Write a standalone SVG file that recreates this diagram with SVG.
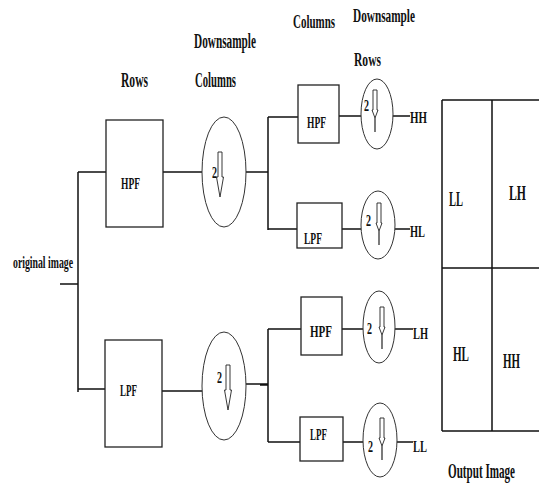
<svg xmlns="http://www.w3.org/2000/svg" width="539" height="489" viewBox="0 0 539 489">
<style>
.t{font-family:"Liberation Serif","Times New Roman",serif;font-weight:bold;fill:#111}
.box{fill:#fff;stroke:#222;stroke-width:1.3}
.ell{fill:#fff;stroke:#333;stroke-width:1}
.ln{stroke:#111;stroke-width:1.5;fill:none}
.arr{fill:#fff;stroke:#222;stroke-width:0.9}
</style>
<defs>
<path id="arrBig" d="M-2,0 h4 v25 h1.5 l-3.5,20 l-3.5,-20 h1.5 z" class="arr"/>
<g id="arrSm"><path d="M-2,0 h4 v20 h1 l-3,8 l-3,-8 h1 z" class="arr"/><path d="M0,28 V42" stroke="#222" stroke-width="1.2"/></g>
</defs>
<rect width="539" height="489" fill="#fff"/>
<g id="connectors">
<path class="ln" d="M60,284 H78 M78,172 V392 M78,172 H106 M78,389 H106"/>
<path class="ln" d="M163,172 H202 M245,172 H268 M268,117 V230 M268,117 H298 M268,229 H297"/>
<path class="ln" d="M162,391 H203 M246,384 H268 M268,329 V442 M260,385 H268 M268,329 H301 M268,442 H300"/>
<path class="ln" d="M339,116 H361 M392,116 H410 M342,229 H361 M395,229 H410"/>
<path class="ln" d="M342,329 H363 M395,329 H413 M343,442 H363 M397,442 H413"/>
</g>
<g id="labels">
<text class="t" x="121" y="87" font-size="20" textLength="27" lengthAdjust="spacingAndGlyphs">Rows</text>
<text class="t" x="194" y="48" font-size="20" textLength="62" lengthAdjust="spacingAndGlyphs">Downsample</text>
<text class="t" x="195" y="87" font-size="20" textLength="41" lengthAdjust="spacingAndGlyphs">Columns</text>
<text class="t" transform="translate(293,28) scale(0.577,1)" font-size="19">Columns</text>
<text class="t" transform="translate(353,22) scale(0.593,1)" font-size="19">Downsample</text>
<text class="t" x="354" y="66" font-size="19" textLength="27" lengthAdjust="spacingAndGlyphs">Rows</text>
<text class="t" x="13" y="268" font-size="17" textLength="60" lengthAdjust="spacingAndGlyphs">original image</text>
</g>
<g id="hpf1"><rect class="box" x="106" y="120" width="57" height="107"/><text class="t" x="121" y="189" font-size="17" textLength="19" lengthAdjust="spacingAndGlyphs">HPF</text></g>
<g id="lpf1"><rect class="box" x="105" y="340" width="57" height="107"/><text class="t" x="120" y="396" font-size="17" textLength="17" lengthAdjust="spacingAndGlyphs">LPF</text></g>
<g id="ds1"><ellipse class="ell" cx="224" cy="172" rx="22" ry="55"/><text class="t" x="212" y="178" font-size="17" textLength="5" lengthAdjust="spacingAndGlyphs">2</text><use href="#arrBig" x="220" y="152"/></g>
<g id="ds2"><ellipse class="ell" cx="224" cy="386" rx="22" ry="54"/><text class="t" x="217" y="383" font-size="17" textLength="5" lengthAdjust="spacingAndGlyphs">2</text><use href="#arrBig" x="228" y="365"/></g>
<g id="hpf2"><rect class="box" x="298" y="85" width="41" height="58"/><text class="t" x="307" y="128" font-size="17" textLength="19" lengthAdjust="spacingAndGlyphs">HPF</text></g>
<g id="lpf2"><rect class="box" x="297" y="203" width="45" height="45"/><text class="t" x="304" y="244" font-size="17" textLength="18" lengthAdjust="spacingAndGlyphs">LPF</text></g>
<g id="hpf3"><rect class="box" x="301" y="297" width="41" height="58"/><text class="t" x="310" y="337" font-size="17" textLength="22" lengthAdjust="spacingAndGlyphs">HPF</text></g>
<g id="lpf3"><rect class="box" x="300" y="417" width="43" height="44"/><text class="t" x="310" y="440" font-size="17" textLength="17" lengthAdjust="spacingAndGlyphs">LPF</text></g>
<g id="ds3"><ellipse class="ell" cx="377" cy="114" rx="16" ry="35"/><text class="t" x="364" y="111" font-size="16" textLength="5" lengthAdjust="spacingAndGlyphs">2</text><use href="#arrSm" x="375" y="90"/></g>
<g id="ds4"><ellipse class="ell" cx="378" cy="225" rx="17" ry="34"/><text class="t" x="366" y="226" font-size="16" textLength="5" lengthAdjust="spacingAndGlyphs">2</text><use href="#arrSm" x="379" y="203"/></g>
<g id="ds5"><ellipse class="ell" cx="379" cy="327" rx="16" ry="36"/><text class="t" x="367" y="334" font-size="16" textLength="5" lengthAdjust="spacingAndGlyphs">2</text><use href="#arrSm" x="382" y="307"/></g>
<g id="ds6"><ellipse class="ell" cx="380" cy="440" rx="17" ry="37"/><text class="t" x="368" y="452" font-size="16" textLength="5" lengthAdjust="spacingAndGlyphs">2</text><use href="#arrSm" x="382" y="418"/></g>
<g id="outs">
<text class="t" x="410" y="123" font-size="17" textLength="17" lengthAdjust="spacingAndGlyphs">HH</text>
<text class="t" x="410" y="237" font-size="17" textLength="15" lengthAdjust="spacingAndGlyphs">HL</text>
<text class="t" x="413" y="339" font-size="17" textLength="15" lengthAdjust="spacingAndGlyphs">LH</text>
<text class="t" x="413" y="452" font-size="17" textLength="14" lengthAdjust="spacingAndGlyphs">LL</text>
</g>
<g id="output-image">
<path class="ln" d="M442,100 H539 M442,100 V431 M492,100 V431 M442,268 H539 M442,431 H539" stroke-width="1.3"/>
<text class="t" x="449" y="206" font-size="21" textLength="14" lengthAdjust="spacingAndGlyphs">LL</text>
<text class="t" x="509" y="200" font-size="21" textLength="17" lengthAdjust="spacingAndGlyphs">LH</text>
<text class="t" x="453" y="361" font-size="21" textLength="16" lengthAdjust="spacingAndGlyphs">HL</text>
<text class="t" x="503" y="368" font-size="21" textLength="17" lengthAdjust="spacingAndGlyphs">HH</text>
<text class="t" transform="translate(448,478) scale(0.53,1)" font-size="21">Output Image</text>
</g>
</svg>
